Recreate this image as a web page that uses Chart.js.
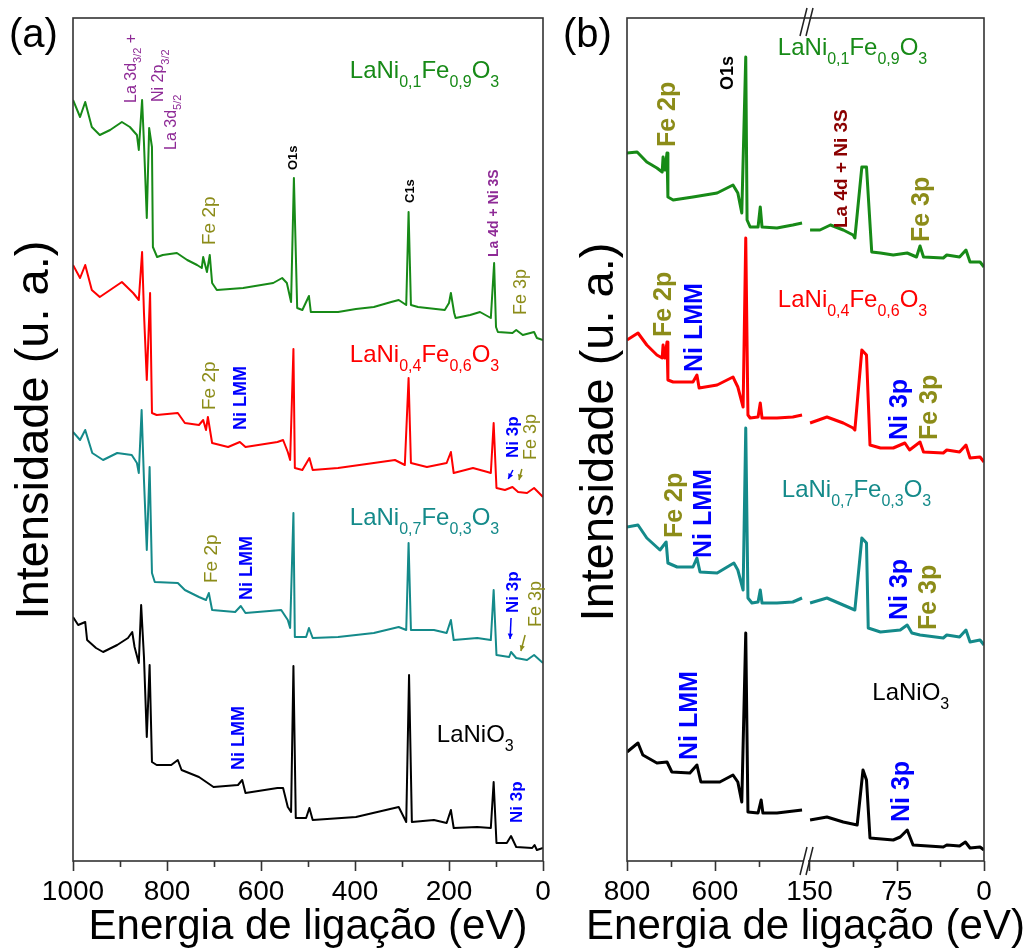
<!DOCTYPE html>
<html><head><meta charset="utf-8">
<script src="https://cdn.jsdelivr.net/npm/chart.js@4.4.0/dist/chart.umd.min.js"></script>
<style>
html,body{margin:0;padding:0;background:#fff;}
#wrap{position:relative;width:1028px;height:950px;overflow:hidden;background:#fff;}
#ca{position:absolute;left:0;top:0;}
#cb{position:absolute;left:560px;top:0;}
</style></head><body>
<div id="wrap">
<canvas id="ca" width="560" height="950"></canvas>
<canvas id="cb" width="468" height="950"></canvas>
</div>
<script>
// ---------------- DATA (binding energy in eV, intensity in arbitrary offset units) ----------------
// Panel (a): full survey 1000 -> 0 eV
const aGreenE = [1000,985,974,960,943,921,896,879,864,860,853,849,843,838,832,830,821,809,779,757,736,726,723,715,709,704,694,638,574,555,545,536,530,523,512,498,494,436,398,360,323,307,291,286,281,266,247,209,200,196,189,186,155,134,111,104,100,96,65,57,43,19,13,0];
const aGreenI = [761,744,759,734,726,731,739,734,726,711,761,718,643,733,714,614,604,606,608,601,596,593,604,589,606,578,571,573,578,583,578,559,683,553,551,565,549,549,552,554,559,561,556,649,556,554,553,551,558,568,548,543,546,549,543,598,534,529,528,531,526,529,523,521];

const aRedE = [1000,985,974,960,943,921,896,872,860,853,849,843,836,832,822,777,762,732,723,717,713,704,670,645,633,565,553,543,538,531,528,512,497,490,436,360,315,294,286,281,247,205,196,190,149,118,111,105,99,81,65,53,34,19,0];
const aRedI = [596,583,596,571,564,571,579,568,561,609,548,481,568,448,446,448,438,436,441,431,444,418,414,419,414,419,421,409,401,512,393,391,403,391,393,398,401,396,483,398,394,398,409,388,393,389,388,438,373,371,374,369,368,373,364];

const aTealE = [1000,985,974,959,936,906,875,864,860,854,849,843,837,832,826,777,762,732,717,711,704,655,643,633,557,543,538,531,528,504,498,490,436,360,307,291,286,281,232,205,196,190,140,111,105,99,72,68,57,34,19,0];
const aTealI = [429,421,431,408,401,408,406,398,388,451,381,311,394,288,279,278,271,264,261,268,251,249,255,248,251,241,233,348,224,224,233,223,224,228,234,231,318,231,231,228,241,221,223,221,271,206,204,209,203,201,206,198];

const aBlackE = [1000,989,974,970,951,936,906,883,874,869,860,855,849,843,837,832,822,791,777,769,732,701,649,640,633,565,553,543,536,531,526,504,497,490,398,307,291,285,279,232,205,196,190,140,111,105,99,77,68,57,23,18,13,0];
const aBlackI = [244,236,239,221,213,209,216,223,229,214,198,256,204,124,196,99,96,96,101,91,84,74,76,81,68,73,73,54,49,195,43,43,53,41,44,54,39,186,39,41,38,51,33,34,33,79,18,18,25,14,13,16,11,13];

// Panel (b): broken axis, 800 -> ~400 eV and 150 -> 0 eV
const bGreenLoE = [800,777,755,732,720,718,714,709,707,695,650,595,559,548,539,530,527,520,502,497,493,459,423,402];
const bGreenLoI = [708,709,699,693,689,704,691,708,664,661,664,668,676,668,648,804,641,634,634,654,634,633,636,638];
const bGreenHiE = [149.5,141,132,121,112.5,111,105,101,96.5,89,78,66,58,55,52,35,32,21,15.5,12,3.4,0];
const bGreenHiI = [631,631,636,631,626,623,694,694,609,608,606,608,604,615,604,603,606,604,611,599,599,594];

const bRedLoE = [800,775,755,732,720,718,714,709,707,695,650,641,636,595,559,548,536,530,525,520,502,497,493,459,423,402];
const bRedLoI = [521,528,516,506,503,516,503,519,481,479,479,486,473,476,484,474,454,623,446,443,444,458,443,443,444,446];
const bRedHiE = [149.5,135,121,112.5,111,105,101,98,89,78,68,64,55,52,35,32,21,15.5,12,3.4,0];
const bRedHiI = [438,444,438,433,431,511,506,416,413,413,418,411,419,409,408,411,409,416,403,404,399];

const bTealLoE = [800,775,755,725,711,707,686,650,641,634,595,557,548,536,530,525,516,502,497,493,459,423,402];
const bTealLoI = [334,336,323,311,319,298,294,294,303,289,288,298,291,271,433,263,258,259,271,258,258,259,263];
const bTealHiE = [149.5,135,121,111,105,101,99.5,89,72,66,62,55,35,32,21,15.5,12,3.4,0];
const bTealHiI = [258,263,256,251,323,318,233,229,231,236,228,226,223,226,224,231,219,221,216];

const bBlackLoE = [800,775,764,732,709,698,657,641,632,589,559,548,539,530,525,502,495,491,459,402];
const bBlackLoI = [109,118,106,98,99,89,88,96,79,79,86,79,59,228,49,48,61,48,48,51];
const bBlackHiE = [149.5,135,121,109,104,101,98,78,72,66,61,35,32,21,16,12,3.4,0];
const bBlackHiI = [41,44,39,36,91,81,23,21,24,31,16,14,16,15,19,13,14,11];

// tick values
const aMajorTicks = [1000,800,600,400,200,0];
const aMinorTicks = [900,700,500,300,100];
const bLoMajorTicks = [800,600];
const bLoMinorTicks = [700,500];
const bHiMajorTicks = [150,75,0];
const bHiMinorTicks = [112.5,37.5];

// ---------------- STYLE ----------------
const FONT = "'Liberation Sans', Arial, Helvetica, sans-serif";
const COL = {green:'#178a17', red:'#ff0000', teal:'#148a8a', black:'#000000',
             purple:'#8e2a96', olive:'#8c8c19', blue:'#0000ff', dred:'#8b0000'};
Chart.defaults.font.family = FONT;

function pts(E, I){ return E.map((e,i)=>({x:e, y:I[i]})); }
function ds(E, I, color, xAxis, w){
  return {data:pts(E,I), borderColor:color, borderWidth:w, pointRadius:0, tension:0,
          borderJoinStyle:'round', xAxisID:xAxis, yAxisID:'y', fill:false};
}

function drawRich(ctx, x, y, segs, size, color, bold, rot){
  ctx.save();
  ctx.translate(x, y);
  if (rot) ctx.rotate(-Math.PI/2);
  ctx.fillStyle = color;
  ctx.textBaseline = 'alphabetic';
  ctx.textAlign = 'left';
  const wt = bold ? 'bold ' : '';
  const sub = Math.round(size*0.68);
  const yOff = rot ? size*0.36 : 0;
  let cx = 0;
  for (const [t, s] of segs){
    ctx.font = wt + (s ? sub : size) + 'px ' + FONT;
    ctx.fillText(t, cx, yOff + (s ? size*0.36 : 0));
    cx += ctx.measureText(t).width;
  }
  ctx.restore();
}
function arrow(ctx, x1, y1, x2, y2, color){
  ctx.save();
  ctx.strokeStyle = color; ctx.fillStyle = color; ctx.lineWidth = 1.5;
  ctx.beginPath(); ctx.moveTo(x1,y1); ctx.lineTo(x2,y2); ctx.stroke();
  const a = Math.atan2(y2-y1, x2-x1), L = 6;
  ctx.beginPath();
  ctx.moveTo(x2,y2);
  ctx.lineTo(x2 - L*Math.cos(a-0.45), y2 - L*Math.sin(a-0.45));
  ctx.lineTo(x2 - L*Math.cos(a+0.45), y2 - L*Math.sin(a+0.45));
  ctx.closePath(); ctx.fill();
  ctx.restore();
}

function makeDecor(cfg){
  return {
    id:'decor',
    afterDraw(chart){
      const ctx = chart.ctx, ca = chart.chartArea, ys = chart.scales.y;
      ctx.save();
      // frame
      ctx.strokeStyle = '#333'; ctx.lineWidth = 1.6;
      ctx.strokeRect(ca.left, ca.top, ca.right-ca.left, ca.bottom-ca.top);
      // tick marks (outward)
      ctx.beginPath();
      for (const t of cfg.ticks){
        const sc = chart.scales[t.axis];
        for (const v of t.major){ const px = Math.round(sc.getPixelForValue(v))+0.5; ctx.moveTo(px, ca.bottom); ctx.lineTo(px, ca.bottom+10); }
        for (const v of t.minor){ const px = Math.round(sc.getPixelForValue(v))+0.5; ctx.moveTo(px, ca.bottom); ctx.lineTo(px, ca.bottom+6); }
      }
      ctx.stroke();
      // axis break marks
      if (cfg.breakAt){
        const bx = chart.scales[cfg.breakAt].right;
        for (const yy of [ca.top+4, ca.bottom]){
          ctx.save();
          ctx.fillStyle='#fff';
          ctx.fillRect(bx-2, yy-3, 4, 6);
          ctx.restore();
          ctx.beginPath();
          ctx.moveTo(bx-6, yy+14); ctx.lineTo(bx+1, yy-14);
          ctx.moveTo(bx, yy+14); ctx.lineTo(bx+7, yy-14);
          ctx.lineWidth = 1.5; ctx.strokeStyle='#222'; ctx.stroke();
        }
      }
      // x title
      ctx.fillStyle = '#000';
      ctx.font = '42px ' + FONT;
      ctx.textAlign = 'center'; ctx.textBaseline = 'alphabetic';
      ctx.fillText(cfg.xTitle, (ca.left+ca.right)/2, 939);
      // y title
      ctx.save();
      ctx.translate(cfg.yTitle.x, cfg.yTitle.y);
      ctx.rotate(-Math.PI/2);
      ctx.font = '47px ' + FONT;
      ctx.textAlign = 'center'; ctx.textBaseline = 'alphabetic';
      ctx.fillText(cfg.yTitle.text, 0, 0);
      ctx.restore();
      // panel label
      ctx.font = '40px ' + FONT; ctx.textAlign = 'left';
      ctx.fillText(cfg.panel.text, cfg.panel.x, cfg.panel.y);
      // annotations
      for (const n of cfg.notes){
        const px = chart.scales[n.ax].getPixelForValue(n.E), py = ys.getPixelForValue(n.v);
        drawRich(ctx, px, py, n.segs, n.size, n.color, n.bold, n.rot);
      }
      for (const a of (cfg.arrows||[])){
        const sc = chart.scales[a.ax];
        arrow(ctx, sc.getPixelForValue(a.E1), ys.getPixelForValue(a.v1), sc.getPixelForValue(a.E2), ys.getPixelForValue(a.v2), a.color);
      }
      ctx.restore();
    }
  };
}

const F01 = [['LaNi'],['0,1',1],['Fe'],['0,9',1],['O'],['3',1]];
const F04 = [['LaNi'],['0,4',1],['Fe'],['0,6',1],['O'],['3',1]];
const F07 = [['LaNi'],['0,7',1],['Fe'],['0,3',1],['O'],['3',1]];
const F10 = [['LaNiO'],['3',1]];

const notesA = [
  {ax:'x', E:879, v:758, segs:[['La 3d'],['3/2',1],[' +']], size:16, color:COL.purple, bold:false, rot:true},
  {ax:'x', E:821, v:759, segs:[['Ni 2p'],['3/2',1]], size:16, color:COL.purple, bold:false, rot:true},
  {ax:'x', E:794, v:711, segs:[['La 3d'],['5/2',1]], size:16, color:COL.purple, bold:false, rot:true},
  {ax:'x', E:713, v:616, segs:[['Fe 2p']], size:19, color:COL.olive, bold:false, rot:true},
  {ax:'x', E:534, v:691, segs:[['O1s']], size:13, color:COL.black, bold:true, rot:true},
  {ax:'x', E:285, v:658, segs:[['C1s']], size:13, color:COL.black, bold:true, rot:true},
  {ax:'x', E:106, v:604, segs:[['La 4d + Ni 3S']], size:14, color:COL.purple, bold:true, rot:true},
  {ax:'x', E:49, v:546, segs:[['Fe 3p']], size:18, color:COL.olive, bold:false, rot:true},
  {ax:'x', E:411, v:783, segs:F01, size:24, color:COL.green, bold:false, rot:false},

  {ax:'x', E:713, v:451, segs:[['Fe 2p']], size:19, color:COL.olive, bold:false, rot:true},
  {ax:'x', E:645, v:431, segs:[['Ni LMM']], size:18, color:COL.blue, bold:true, rot:true},
  {ax:'x', E:66, v:403, segs:[['Ni 3p']], size:17, color:COL.blue, bold:true, rot:true},
  {ax:'x', E:28, v:401, segs:[['Fe 3p']], size:18, color:COL.olive, bold:false, rot:true},
  {ax:'x', E:411, v:499, segs:F04, size:24, color:COL.red, bold:false, rot:false},

  {ax:'x', E:709, v:278, segs:[['Fe 2p']], size:19, color:COL.olive, bold:false, rot:true},
  {ax:'x', E:634, v:261, segs:[['Ni LMM']], size:18, color:COL.blue, bold:true, rot:true},
  {ax:'x', E:66, v:248, segs:[['Ni 3p']], size:17, color:COL.blue, bold:true, rot:true},
  {ax:'x', E:19, v:234, segs:[['Fe 3p']], size:18, color:COL.olive, bold:false, rot:true},
  {ax:'x', E:411, v:336, segs:F07, size:24, color:COL.teal, bold:false, rot:false},

  {ax:'x', E:649, v:91, segs:[['Ni LMM']], size:18, color:COL.blue, bold:true, rot:true},
  {ax:'x', E:57, v:38, segs:[['Ni 3p']], size:17, color:COL.blue, bold:true, rot:true},
  {ax:'x', E:226, v:119, segs:F10, size:24, color:COL.black, bold:false, rot:false}
];
const arrowsA = [
  {ax:'x', E1:64, v1:391, E2:74, v2:382, color:COL.blue},
  {ax:'x', E1:45, v1:392, E2:51, v2:381, color:COL.olive},
  {ax:'x', E1:68, v1:243, E2:70, v2:222, color:COL.blue},
  {ax:'x', E1:38, v1:226, E2:47, v2:210, color:COL.olive}
];

const notesB = [
  {ax:'xl', E:573, v:771, segs:[['O1s']], size:18, color:COL.black, bold:true, rot:true},
  {ax:'xl', E:457, v:806, segs:F01, size:24, color:COL.green, bold:false, rot:false},
  {ax:'xl', E:711, v:714, segs:[['Fe 2p']], size:25, color:COL.olive, bold:true, rot:true},
  {ax:'xr', E:124, v:633, segs:[['La 4d + Ni 3S']], size:19, color:COL.dred, bold:true, rot:true},
  {ax:'xr', E:55, v:619, segs:[['Fe 3p']], size:25, color:COL.olive, bold:true, rot:true},

  {ax:'xl', E:457, v:554, segs:F04, size:24, color:COL.red, bold:false, rot:false},
  {ax:'xl', E:720, v:524, segs:[['Fe 2p']], size:25, color:COL.olive, bold:true, rot:true},
  {ax:'xl', E:650, v:489, segs:[['Ni LMM']], size:25, color:COL.blue, bold:true, rot:true},
  {ax:'xr', E:74, v:421, segs:[['Ni 3p']], size:25, color:COL.blue, bold:true, rot:true},
  {ax:'xr', E:48, v:421, segs:[['Fe 3p']], size:25, color:COL.olive, bold:true, rot:true},

  {ax:'xl', E:448, v:364, segs:F07, size:24, color:COL.teal, bold:false, rot:false},
  {ax:'xl', E:695, v:323, segs:[['Fe 2p']], size:25, color:COL.olive, bold:true, rot:true},
  {ax:'xl', E:630, v:303, segs:[['Ni LMM']], size:25, color:COL.blue, bold:true, rot:true},
  {ax:'xr', E:74, v:241, segs:[['Ni 3p']], size:25, color:COL.blue, bold:true, rot:true},
  {ax:'xr', E:49, v:231, segs:[['Fe 3p']], size:25, color:COL.olive, bold:true, rot:true},

  {ax:'xr', E:96, v:161, segs:F10, size:24, color:COL.black, bold:false, rot:false},
  {ax:'xl', E:661, v:101, segs:[['Ni LMM']], size:25, color:COL.blue, bold:true, rot:true},
  {ax:'xr', E:72, v:39, segs:[['Ni 3p']], size:25, color:COL.blue, bold:true, rot:true}
];

const tickFont = {size:28, family:FONT};
const plainTick = v => String(v);

// ---------------- PANEL (a) ----------------
new Chart(document.getElementById('ca'), {
  type:'line',
  data:{datasets:[
    ds(aGreenE, aGreenI, COL.green, 'x', 2),
    ds(aRedE, aRedI, COL.red, 'x', 2),
    ds(aTealE, aTealI, COL.teal, 'x', 2),
    ds(aBlackE, aBlackI, COL.black, 'x', 2)
  ]},
  options:{
    responsive:false, animation:false, events:[],
    layout:{padding:{left:73, right:17, top:18, bottom:0}},
    plugins:{legend:{display:false}, tooltip:{enabled:false}},
    scales:{
      x:{type:'linear', reverse:true, min:0, max:1000, position:'bottom',
         grid:{display:false}, border:{display:false},
         ticks:{stepSize:200, font:tickFont, color:'#000', padding:6, maxRotation:0, autoSkip:false, callback:plainTick},
         afterFit(s){ s.height = 89; }},
      y:{display:false, min:0, max:843}
    }
  },
  plugins:[makeDecor({
    ticks:[{axis:'x', major:aMajorTicks, minor:aMinorTicks}],
    xTitle:'Energia de ligação (eV)',
    yTitle:{text:'Intensidade (u. a.)', x:48, y:430},
    panel:{text:'(a)', x:9, y:47},
    notes:notesA, arrows:arrowsA
  })]
});

// ---------------- PANEL (b) ----------------
new Chart(document.getElementById('cb'), {
  type:'line',
  data:{datasets:[
    ds(bGreenLoE, bGreenLoI, COL.green, 'xl', 3), ds(bGreenHiE, bGreenHiI, COL.green, 'xr', 3),
    ds(bRedLoE, bRedLoI, COL.red, 'xl', 3), ds(bRedHiE, bRedHiI, COL.red, 'xr', 3),
    ds(bTealLoE, bTealLoI, COL.teal, 'xl', 3), ds(bTealHiE, bTealHiI, COL.teal, 'xr', 3),
    ds(bBlackLoE, bBlackLoI, COL.black, 'xl', 3), ds(bBlackHiE, bBlackHiI, COL.black, 'xr', 3)
  ]},
  options:{
    responsive:false, animation:false, events:[],
    layout:{padding:{left:67, right:44, top:18, bottom:0}},
    plugins:{legend:{display:false}, tooltip:{enabled:false}},
    scales:{
      xl:{type:'linear', reverse:true, min:393, max:800, position:'bottom', stack:'b', stackWeight:179,
          grid:{display:false}, border:{display:false},
          ticks:{font:tickFont, color:'#000', padding:6, maxRotation:0, autoSkip:false, callback:plainTick},
          afterBuildTicks(s){ s.ticks = bLoMajorTicks.map(v=>({value:v})); },
          afterFit(s){ s.height = 89; }},
      xr:{type:'linear', reverse:true, min:0, max:153, position:'bottom', stack:'b', stackWeight:178,
          grid:{display:false}, border:{display:false},
          ticks:{font:tickFont, color:'#000', padding:6, maxRotation:0, autoSkip:false, callback:plainTick},
          afterBuildTicks(s){ s.ticks = bHiMajorTicks.map(v=>({value:v})); },
          afterFit(s){ s.height = 89; }},
      y:{display:false, min:0, max:843}
    }
  },
  plugins:[makeDecor({
    ticks:[{axis:'xl', major:bLoMajorTicks, minor:bLoMinorTicks},{axis:'xr', major:bHiMajorTicks, minor:bHiMinorTicks}],
    breakAt:'xl',
    xTitle:'Energia de ligação (eV)',
    yTitle:{text:'Intensidade (u. a.)', x:53, y:432},
    panel:{text:'(b)', x:3, y:47},
    notes:notesB
  })]
});
</script>
</body></html>
